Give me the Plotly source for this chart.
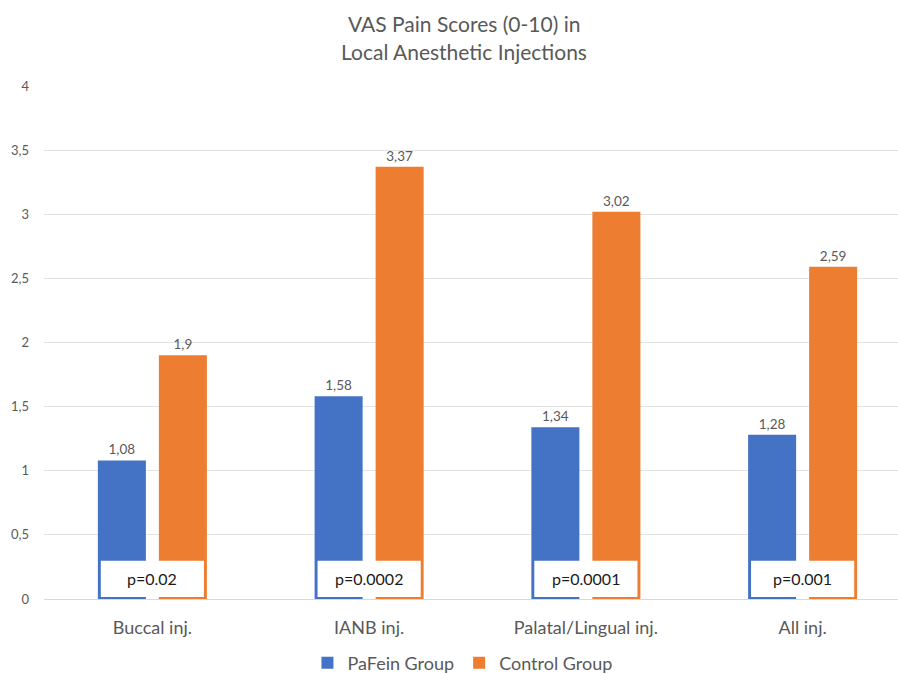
import plotly.graph_objects as go

categories = ["Buccal inj.", "IANB inj.", "Palatal/Lingual inj.", "All inj."]
pafein = [1.08, 1.58, 1.34, 1.28]
control = [1.9, 3.37, 3.02, 2.59]
p_values = ["p=0.02", "p=0.0002", "p=0.0001", "p=0.001"]
title_lines = ["VAS Pain Scores (0-10) in", "Local Anesthetic Injections"]

FONT = "Lato"
GRAY = "#595959"

fig = go.Figure()
fig.add_trace(go.Bar(
    x=categories, y=pafein, name="PaFein Group",
    marker=dict(color="#4472C4", line=dict(width=0)),
    texttemplate="%{y}", textposition="outside",
    textfont=dict(size=13.5, color=GRAY, family=FONT), cliponaxis=False,
))
fig.add_trace(go.Bar(
    x=categories, y=control, name="Control Group",
    marker=dict(color="#ED7D31", line=dict(width=0)),
    texttemplate="%{y}", textposition="outside",
    textfont=dict(size=13.5, color=GRAY, family=FONT), cliponaxis=False,
))

# white p-value boxes over the bottom of each group
for i, p in enumerate(p_values):
    fig.add_shape(type="rect", xref="x", yref="y",
                  x0=i - 0.238, x1=i + 0.238, y0=0.016, y1=0.298,
                  fillcolor="white", line=dict(width=0), layer="above")
    fig.add_annotation(x=i, y=0.157, xref="x", yref="y", text=p, showarrow=False,
                       font=dict(size=16, color="#1a1a1a", family=FONT))

for line, yy in zip(title_lines, [1.1228, 1.0682]):
    fig.add_annotation(text=line, xref="paper", yref="paper", x=0.492, y=yy,
                       showarrow=False, xanchor="center", yanchor="middle",
                       font=dict(size=21, color=GRAY, family=FONT))

fig.update_layout(
    width=898, height=674,
    margin=dict(l=44, r=0, t=86, b=75, autoexpand=False),
    paper_bgcolor="white", plot_bgcolor="white",
    separators=", ",
    barmode="group", bargap=0.437, bargroupgap=0.213,
    font=dict(family=FONT, color=GRAY),
    showlegend=True,
    legend=dict(orientation="h", x=0.49, xanchor="center", y=-0.125, yanchor="middle",
                font=dict(size=18, color=GRAY, family=FONT), itemwidth=30,
                traceorder="normal"),
    xaxis=dict(range=[-0.5, 3.44], showgrid=False, showline=True, linecolor="#d9d9d9",
               linewidth=1, ticks="", tickfont=dict(size=18, color=GRAY, family=FONT),
               ticklabelstandoff=12, automargin=False),
    yaxis=dict(range=[0, 4], dtick=0.5, showgrid=True, gridcolor="#e3e3e3", gridwidth=1,
               zeroline=False, showline=False, ticks="",
               tickfont=dict(size=13, color=GRAY, family=FONT), ticklabelstandoff=14,
               automargin=False),
)

fig.write_html("out.html")
